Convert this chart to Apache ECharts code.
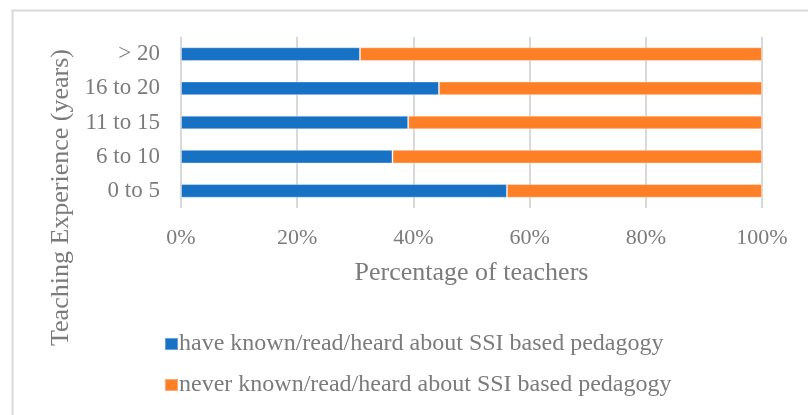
<!DOCTYPE html>
<html>
<head>
<meta charset="utf-8">
<script src="https://cdn.jsdelivr.net/npm/echarts@6/dist/echarts.min.js"></script>
<style>
html,body{margin:0;padding:0;background:#fff;}
#chart{width:808px;height:415px;}
</style>
</head>
<body>
<div id="chart"></div>
<script>
const categories = ['0 to 5', '6 to 10', '11 to 15', '16 to 20', '> 20'];
const haveKnown = [56.1, 36.4, 39.1, 44.4, 30.8];
const neverKnown = [43.9, 63.6, 60.9, 55.6, 69.2];
const seriesNames = ['have known/read/heard about SSI based pedagogy', 'never known/read/heard about SSI based pedagogy'];
const xTicks = [0, 20, 40, 60, 80, 100];

const FONT = '"Liberation Serif", "Times New Roman", serif';
const GREY = '#7b7b7b';

const chart = echarts.init(document.getElementById('chart'), null, {renderer: 'canvas'});
chart.setOption({
  animation: false,
  backgroundColor: '#ffffff',
  graphic: [{
    type: 'rect', left: 10, top: 8, silent: true,
    shape: {width: 900, height: 500},
    style: {fill: 'none', stroke: '#d9d9d9', lineWidth: 2}
  }],
  grid: {left: 181, right: 46, top: 37, bottom: 207, containLabel: false},
  legend: {
    orient: 'vertical',
    left: 159,
    top: 326,
    itemWidth: 13,
    itemHeight: 12,
    itemGap: 15,
    icon: 'rect',
    data: seriesNames,
    textStyle: {fontFamily: FONT, fontSize: 24, color: GREY, lineHeight: 26, padding: [0, 0, 0, -4]}
  },
  xAxis: {
    type: 'value',
    min: xTicks[0],
    max: xTicks[xTicks.length - 1],
    interval: 20,
    name: 'Percentage of teachers',
    nameLocation: 'middle',
    nameGap: 52,
    nameTextStyle: {fontFamily: FONT, fontSize: 26, color: GREY},
    axisLine: {show: false},
    axisTick: {show: false},
    axisLabel: {fontFamily: FONT, fontSize: 22, color: GREY, margin: 19, formatter: v => v + '%'},
    splitLine: {show: true, lineStyle: {color: '#d9d9d9', width: 2}}
  },
  yAxis: {
    type: 'category',
    data: categories,
    name: 'Teaching Experience (years)',
    nameLocation: 'middle',
    nameGap: 107,
    nameTextStyle: {fontFamily: FONT, fontSize: 26, color: GREY, padding: [0, 150, 0, 0]},
    axisLine: {show: false},
    axisTick: {show: false},
    axisLabel: {fontFamily: FONT, fontSize: 23, color: GREY, margin: 21},
    splitLine: {show: false}
  },
  series: [
    {
      name: seriesNames[0], type: 'bar', stack: 'total', barWidth: '40%',
      data: haveKnown,
      itemStyle: {color: '#1772c6', borderColor: 'rgba(255,255,255,0.35)', borderWidth: 1}
    },
    {
      name: seriesNames[1], type: 'bar', stack: 'total', barWidth: '40%',
      data: neverKnown,
      itemStyle: {color: '#fe7f26', borderColor: 'rgba(255,255,255,0.35)', borderWidth: 1}
    }
  ]
});
</script>
</body>
</html>
